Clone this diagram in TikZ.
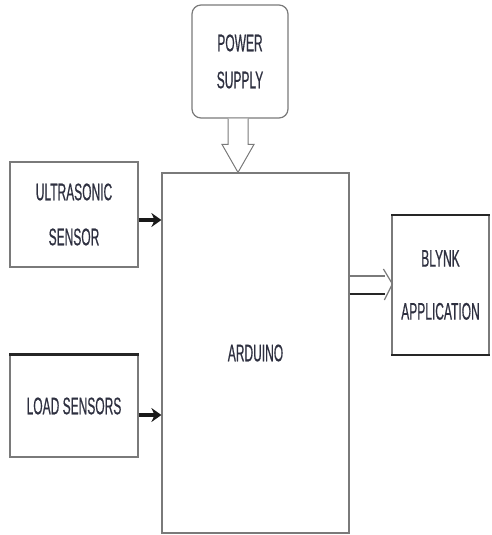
\documentclass[tikz,border=0pt]{standalone}
\usepackage{fontspec}
\newfontfamily\cond[FakeStretch=0.5,FakeBold=0.5]{Liberation Sans}
\usetikzlibrary{calc,arrows.meta}
\definecolor{edge}{HTML}{7A7A7A}
\definecolor{txt}{HTML}{2E3040}
\tikzset{
  blk/.style={draw=edge, line width=1.2pt, fill=white, minimum width=#1, inner sep=0pt, text=txt, align=center,
    font=\cond\fontsize{24}{28}\selectfont},
  sig/.style={line width=3.4pt, black!90, -{Stealth[length=10pt,width=14pt]}},
  hollow/.style={draw=edge, line width=1pt, fill=white, line join=miter},
  dark/.style={line width=2.4pt, black!85}
}
\begin{document}
\begin{tikzpicture}[x=1pt,y=-1pt]
\useasboundingbox (0,0) rectangle (491,535);
\node[blk=96pt, minimum height=113pt, rounded corners=9pt] (ps) at (240,61.5) {POWER\\[9pt]SUPPLY};
\node[blk=187pt, minimum height=360pt] (ard) at (255.5,353) {ARDUINO};
\node[blk=128pt, minimum height=105pt] (us) at (74,214.5) {ULTRASONIC\\[17pt]SENSOR};
\node[blk=128pt, minimum height=102pt] (ls) at (74,406) {LOAD SENSORS};
\node[blk=97pt, minimum height=139pt] (bl) at (440.5,285) {BLYNK\\[25pt]APPLICATION};
% scan-darkened edges
\draw[dark] (ls.north west) -- (ls.north east);
\draw[dark] (bl.north west) -- (bl.north east);
\draw[dark] (bl.south west) -- (bl.south east);
% power arrow
\coordinate (pa) at ($(ps.south)+(-2,0)$);
\coordinate (pt) at (pa |- ard.north);
\draw[hollow] ($(pa)+(-10,0)$) -- ($(pt)+(-10,-28)$) -- ($(pt)+(-16,-28)$) -- (pt)
  -- ($(pt)+(16,-28)$) -- ($(pt)+(10,-28)$) -- ($(pa)+(10,0)$);
% sensor arrows
\coordinate (ua) at ($(us.east)+(0,5.5)$);
\draw[sig] (ua) -- (ua -| ard.west);
\coordinate (la) at ($(ls.east)+(0,9)$);
\draw[sig] (la) -- (la -| ard.west);
% output double arrow
\coordinate (bt) at ($(bl.west)+(1,-1)$);
\coordinate (o1) at (ard.east |- 0,276);
\coordinate (o2) at (ard.east |- 0,294);
\draw[edge, line width=1.2pt] (o1) -- (o1 -| 385,0);
\draw[black!85, line width=2.4pt] (o2) -- (o2 -| 385,0);
\draw[edge, line width=1.2pt] ($(bt)+(-9,-15)$) -- (bt) -- ($(bt)+(-8,16)$);
\end{tikzpicture}
\end{document}
